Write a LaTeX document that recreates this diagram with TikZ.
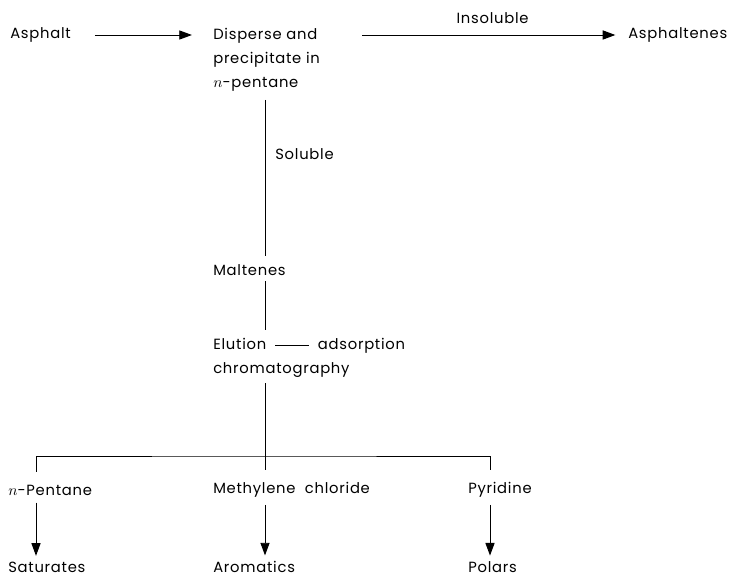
\documentclass[tikz,border=0pt]{standalone}
\usepackage{fontspec}
\setmainfont{Poppins}[LetterSpace=5]
\usetikzlibrary{arrows.meta, positioning}

\tikzset{
  lbl/.style={anchor=west, inner sep=0pt, font=\fontsize{10.5}{17}\selectfont},
  multi/.style={lbl, anchor=north west, align=left},
  flow/.style={-{Triangle[length=9pt,width=6.5pt]}, line width=0.7pt},
  tie/.style={line width=0.7pt},
}

\begin{document}
\begin{tikzpicture}[x=0.025cm, y=-0.025cm]
        \useasboundingbox (0,0) rectangle (748,578);

        % Column positions of the vertical lines
        \coordinate (colL) at (36,0);
        \coordinate (spine) at (265,0);
        \coordinate (colR) at (490,0);

        % Top row
        \node[lbl] (asph) at (10,35) {Asphalt};
        \node[multi] (disp) at (213,28) {Disperse and\\precipitate in\\$n$-pentane};
        \node[lbl] (aspt) at (628,35) {Asphaltenes};
        \node[lbl] (sol) at (275,154) {Soluble};

        % Middle column
        \node[lbl] (malt) at (213,270) {Maltenes};
        \node[multi] (elut) at (213,338) {Elution\hspace{0.6em}\rule[0.28em]{2.3em}{0.6pt}\hspace{0.6em}adsorption\\chromatography};
        \coordinate (fork) at (265,456);

        % Solvents and fractions
        \node[lbl] (pent) at (8,490) {$n$-Pentane};
        \node[lbl] (meth) at (213,490) {Methylene\ \ chloride};
        \node[lbl] (pyr) at (468,490) {Pyridine};
        \node[lbl] (sat) at (8,567) {Saturates};
        \node[lbl] (arom) at (213,567) {Aromatics};
        \node[lbl] (pol) at (468,567) {Polars};

        % Connectors
        \draw[flow, shorten <=17pt, shorten >=15pt] (asph.east) -- (asph.east -| disp.west);
        \draw[flow, shorten <=30pt, shorten >=9pt] (aspt.west -| disp.east) -- node[lbl, anchor=south, pos=0.56, yshift=8pt] (insol) {Insoluble} (aspt.west);
        \draw[tie, shorten <=6pt, shorten >=6pt] (disp.south -| spine) -- (malt.north -| spine);
        \draw[tie, shorten <=4pt, shorten >=6pt] (malt.south -| spine) -- (elut.north -| spine);
        \draw[tie, shorten <=4pt] (elut.south -| spine) -- (fork);
        \draw[tie, shorten <=9pt, shorten >=9pt] (pent.north -| colL) |- (fork) -| (pyr.north -| colR);
        \draw[tie, shorten >=9pt] (fork) -- (meth.north -| spine);
        \draw[flow, shorten <=5pt, shorten >=4pt] (pent.south -| colL) -- (sat.north -| colL);
        \draw[flow, shorten <=5pt, shorten >=4pt] (meth.south -| spine) -- (arom.north -| spine);
        \draw[flow, shorten <=5pt, shorten >=4pt] (pyr.south -| colR) -- (pol.north -| colR);
\end{tikzpicture}
\end{document}
